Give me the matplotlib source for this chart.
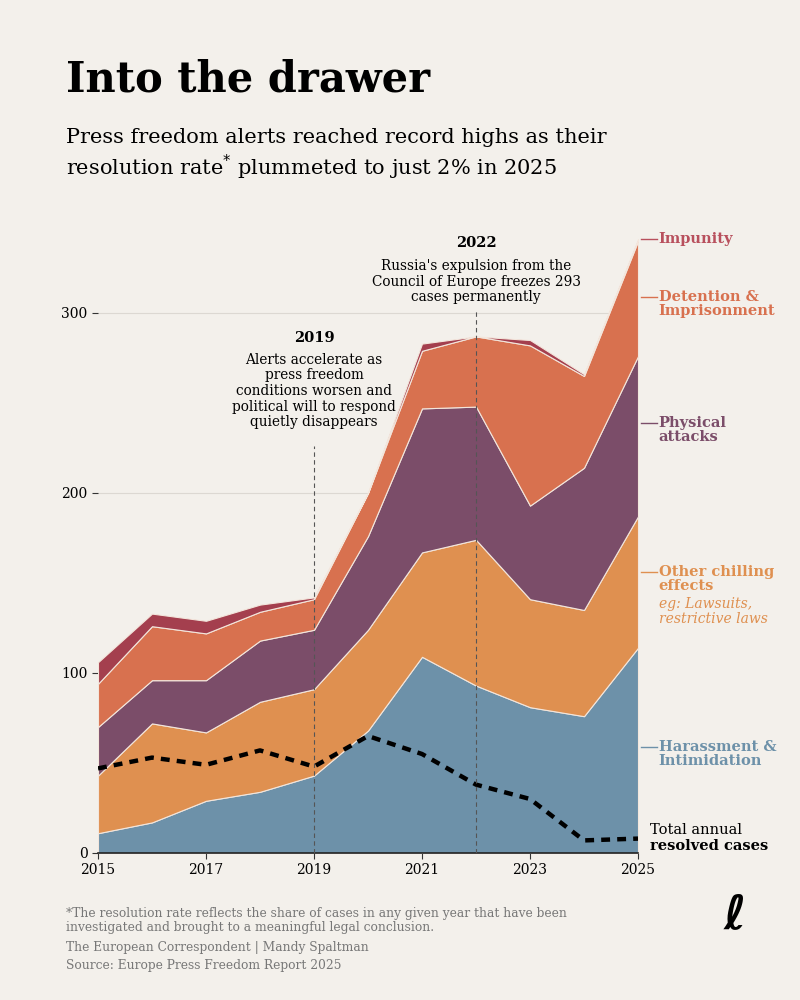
import matplotlib
matplotlib.use("Agg")
import matplotlib.pyplot as plt
import numpy as np

years = list(range(2015, 2026))
# cumulative tops
top_harass = [11, 17, 29, 34, 43, 68, 109, 93, 81, 76, 114]
top_other = [43, 72, 67, 84, 91, 124, 167, 174, 141, 135, 187]
top_phys = [70, 96, 96, 118, 124, 176, 247, 248, 193, 214, 276]
top_det = [94, 126, 122, 134, 141, 200, 279, 287, 282, 265, 340]
top_imp = [106, 133, 129, 138, 142, 200, 283, 287, 285, 266, 341]
resolved = [47, 53, 49, 57, 48, 65, 55, 38, 30, 7, 8]

colors = ["#6d91a9", "#df9050", "#7b4d69", "#d8714f", "#a43f4e"]
tops = [top_harass, top_other, top_phys, top_det, top_imp]

bg = "#f3f0eb"
plt.rcParams['font.family'] = ['DejaVu Serif', 'DejaVu Sans']
fig = plt.figure(figsize=(8, 10), dpi=100, facecolor=bg)
ax = fig.add_axes([0.1225, 0.147, 0.675, 0.63], facecolor=bg)

prev = np.zeros(len(years))
for t, c in zip(tops, colors):
    t = np.array(t, float)
    ax.fill_between(years, prev, t, color=c, lw=0.8, edgecolor="#f3e6dc", zorder=2)
    prev = t

ax.plot(years, resolved, color="black", lw=3.2, ls=(0, (2, 1.6)), zorder=4)

ax.set_xlim(2015, 2025)
ax.set_ylim(0, 350)
ax.set_yticks([0, 100, 200, 300])
ax.set_xticks([2015, 2017, 2019, 2021, 2023, 2025])
ax.tick_params(axis='both', labelsize=10, length=4, color="#333")
ax.grid(axis='y', color="#dcd8d2", lw=0.8, zorder=0)
ax.set_axisbelow(True)
for s in ["top", "right", "left"]:
    ax.spines[s].set_visible(False)
ax.spines["bottom"].set_color("#222")
ax.spines["bottom"].set_linewidth(1.2)

ax.plot([2019, 2019], [0, 226], color="#555", lw=0.8, ls=(0, (4, 3)), zorder=5)
ax.plot([2022, 2022], [0, 302], color="#555", lw=0.8, ls=(0, (4, 3)), zorder=5)
ax.text(2019, 282, "2019", ha='center', va='bottom', fontsize=10.5, fontweight='bold')
ax.text(2019, 278, "Alerts accelerate as\npress freedom\nconditions worsen and\npolitical will to respond\nquietly disappears",
        ha='center', va='top', fontsize=9.8, linespacing=1.15)
ax.text(2022.0, 335, "2022", ha='center', va='bottom', fontsize=10.5, fontweight='bold')
ax.text(2022.0, 330, "Russia's expulsion from the\nCouncil of Europe freezes 293\ncases permanently",
        ha='center', va='top', fontsize=9.8, linespacing=1.15)

lab = [("Harassment &\nIntimidation", 55, colors[0]),
       ("Other chilling\neffects", 152, colors[1]),
       ("Physical\nattacks", 235, colors[2]),
       ("Detention &\nImprisonment", 305, colors[3]),
       ("Impunity", 341, "#b8505d")]
for txt, y, c in lab:
    ly = y + (4 if "\n" in txt else 0)
    ax.plot([2025.05, 2025.35], [ly, ly], color=c, lw=1, clip_on=False)
    ax.text(2025.38, y, txt, color=c, fontsize=10.5, fontweight='bold', va='center', linespacing=1.0)
ax.text(2025.38, 134, "eg: Lawsuits,\nrestrictive laws", color=colors[1], fontsize=10,
        style='italic', va='center', linespacing=1.1)
ax.text(2025.23, 13, "Total annual", fontsize=10.5, va='center')
ax.text(2025.23, 4, "resolved cases", fontsize=10.5, fontweight='bold', va='center')

fig.text(0.083, 0.92, "Into the drawer", fontsize=30, fontweight='bold', va='center')
fig.text(0.083, 0.845, "Press freedom alerts reached record highs as their\nresolution rate$^{*}$ plummeted to just 2% in 2025",
         fontsize=15, va='center', linespacing=1.3)
fig.text(0.083, 0.079, "*The resolution rate reflects the share of cases in any given year that have been\ninvestigated and brought to a meaningful legal conclusion.",
         fontsize=8.8, color="#777", va='center', linespacing=1.1)
fig.text(0.083, 0.053, "The European Correspondent | Mandy Spaltman", fontsize=8.8, color="#777", va='center')
fig.text(0.083, 0.034, "Source: Europe Press Freedom Report 2025", fontsize=8.8, color="#777", va='center')
fig.text(0.918, 0.084, "ℓ", fontsize=34, fontweight='bold', va='center', ha='center',
         family=['DejaVu Sans'])

fig.savefig("out.png", dpi=100, facecolor=bg)
